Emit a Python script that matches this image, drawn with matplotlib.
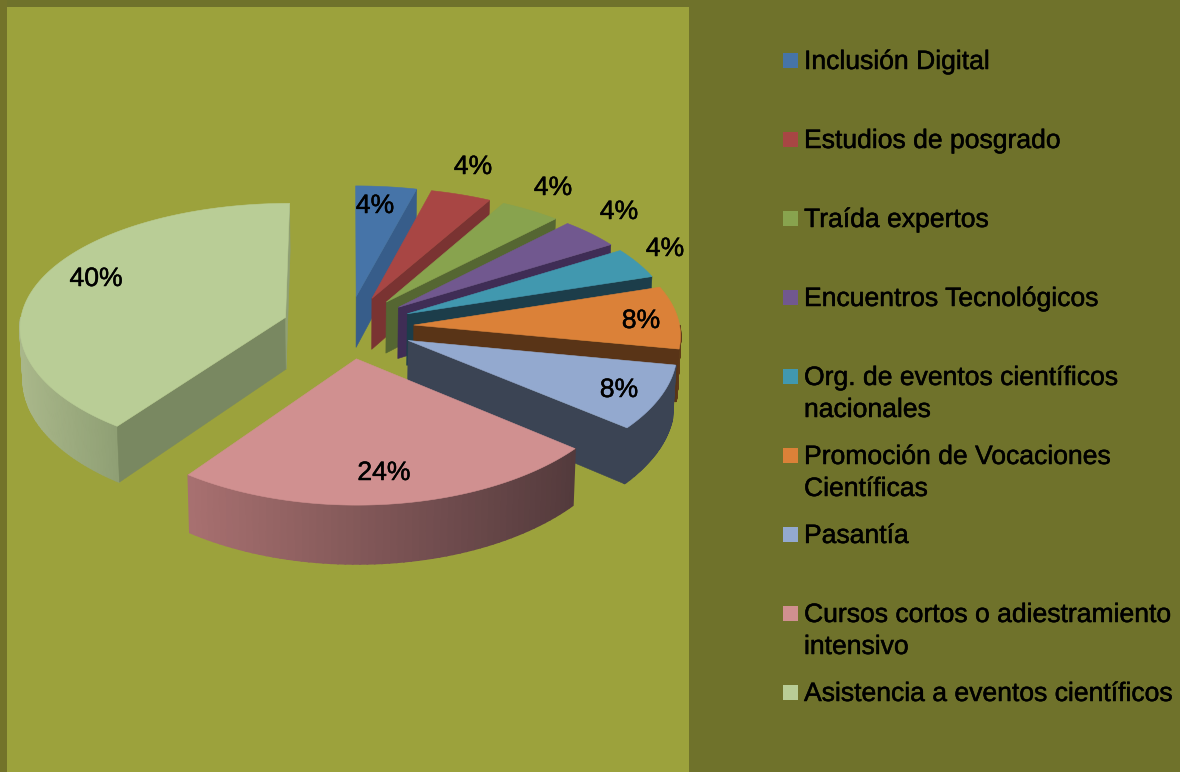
import numpy as np
import matplotlib
matplotlib.use("Agg")
import matplotlib.pyplot as plt
import matplotlib.patheffects as pe
from matplotlib.patches import Rectangle, Polygon
from matplotlib.colors import to_rgb

# ---- data ----
categories = ["Inclusión Digital", "Estudios de posgrado", "Traída expertos",
              "Encuentros Tecnológicos", "Org. de eventos científicos\nnacionales",
              "Promoción de Vocaciones\nCientíficas", "Pasantía",
              "Cursos cortos o adiestramiento\nintensivo", "Asistencia a eventos científicos"]
values = [4, 4, 4, 4, 4, 8, 8, 24, 40]
top_colors = ["#4674A8", "#A84644", "#88A34E", "#71588F", "#4198AF",
              "#DB8138", "#93A9CF", "#D09090", "#B9CD96"]
cut_colors = ["#375D8A", "#7A3332", "#556632", "#3F2D55", "#1C3D4A",
              "#593417", "#3B4454", "#533A3C", "#798861"]
rim_left = ["#375D8A", "#7A3332", "#556632", "#3F2D55", "#1C3D4A",
            "#5E3A18", "#3B4454", "#A87070", "#A9B78A"]
rim_right = ["#375D8A", "#7A3332", "#556632", "#3F2D55", "#1C3D4A",
             "#5E3A18", "#3B4454", "#533A3C", "#8F9F74"]
label_pos = [(375, 205), (473, 166), (553, 187), (619, 211), (665, 248),
             (641, 320), (619, 389), (384, 472), (96, 278)]
legend_rows = [60, 139, 218, 297, 376, 455, 534, 613, 692]

# ---- style / projection ----
W, H = 1180, 772
BG, PLOT = "#6F722B", "#9CA23C"
CX, CY, R, EXPL, DEPTH = 348, 327, 266, 66, 52
PERSP, PERSP_X, SQUASH, TAPER = 0.00035, 0.00026, 0.475, 0.99
FONT = "Liberation Sans"
FS = 19.1
STROKE = [pe.withStroke(linewidth=0.35, foreground="black")]


def project(X, Y, low=False):
    s = 1 / (1 + PERSP * Y)
    sx = 1 / (1 + PERSP_X * Y)
    k = TAPER if low else 1.0
    return CX + X * sx * k, CY - SQUASH * Y * s + (DEPTH * s if low else 0)


def ground(theta, r, mid):
    return (EXPL * np.sin(mid) + r * np.sin(theta),
            EXPL * np.cos(mid) + r * np.cos(theta))


fig = plt.figure(figsize=(W / 100, H / 100), dpi=100, facecolor=BG)
ax = fig.add_axes([0, 0, 1, 1])
ax.set_xlim(0, W)
ax.set_ylim(H, 0)
ax.axis("off")
ax.add_patch(Rectangle((0, 0), 7, H, fc="#73732A", ec="none"))
ax.add_patch(Rectangle((7, 7), 682, H - 7, fc=PLOT, ec="none"))


def poly(pts, color, z, lw=0.4):
    ax.add_patch(Polygon(pts, closed=True, fc=color, ec=color, lw=lw, zorder=z))


def cut_wall(ang, mid, color, z):
    a = project(*ground(ang, 0, mid))
    b = project(*ground(ang, R, mid))
    c = project(*ground(ang, R, mid), low=True)
    d = project(*ground(ang, 0, mid), low=True)
    poly([a, b, c, d], color, z)


total = sum(values)
edges = np.cumsum([0] + values) / total * 2 * np.pi
for i, (start, end) in enumerate(zip(edges[:-1], edges[1:])):
    mid = (start + end) / 2
    z = 2 + i
    # outer rim, front facing part only
    a0, a1 = max(start, np.pi / 2), min(end, 3 * np.pi / 2)
    if a1 > a0:
        th = np.linspace(a0, a1, 60)
        xs = [project(*ground(t, R, mid))[0] for t in th]
        xmin, xmax = min(xs), max(xs)
        cl, cr = np.array(to_rgb(rim_left[i])), np.array(to_rgb(rim_right[i]))
        for t0, t1 in zip(th[:-1], th[1:]):
            g0, g1 = ground(t0, R, mid), ground(t1, R, mid)
            q = [project(*g0), project(*g1), project(*g1, low=True), project(*g0, low=True)]
            f = ((q[0][0] + q[1][0]) / 2 - xmin) / max(xmax - xmin, 1)
            poly(q, tuple(cl + (cr - cl) * f), z, lw=1.2)
    # cut faces
    if start > np.pi:
        cut_wall(start, mid, cut_colors[i], z)
    if end < np.pi:
        cut_wall(end, mid, cut_colors[i], z)
    if i == len(values) - 1:
        cut_wall(end, mid, rim_right[i], z)
    # top face
    th = np.linspace(start, end, 120)
    pts = [project(*ground(0, 0, mid))] + [project(*ground(t, R, mid)) for t in th]
    poly(pts, top_colors[i], z + 0.5)

for v, (x, y) in zip(values, label_pos):
    ax.text(x, y + 1, f"{v}%", ha="center", va="center", color="black",
            family=FONT, fontsize=FS, zorder=20, path_effects=STROKE)

for name, y, c in zip(categories, legend_rows, top_colors):
    ax.add_patch(Rectangle((783, y - 7.5), 15, 15, fc=c, ec="none", zorder=20))
    lines = name.split("\n")
    for j, line in enumerate(lines):
        ax.text(804, y + 2 + 32 * j, line, ha="left", va="center", color="black",
                family=FONT, fontsize=FS, zorder=20, path_effects=STROKE)

fig.savefig("out.png", dpi=100, facecolor=BG)
